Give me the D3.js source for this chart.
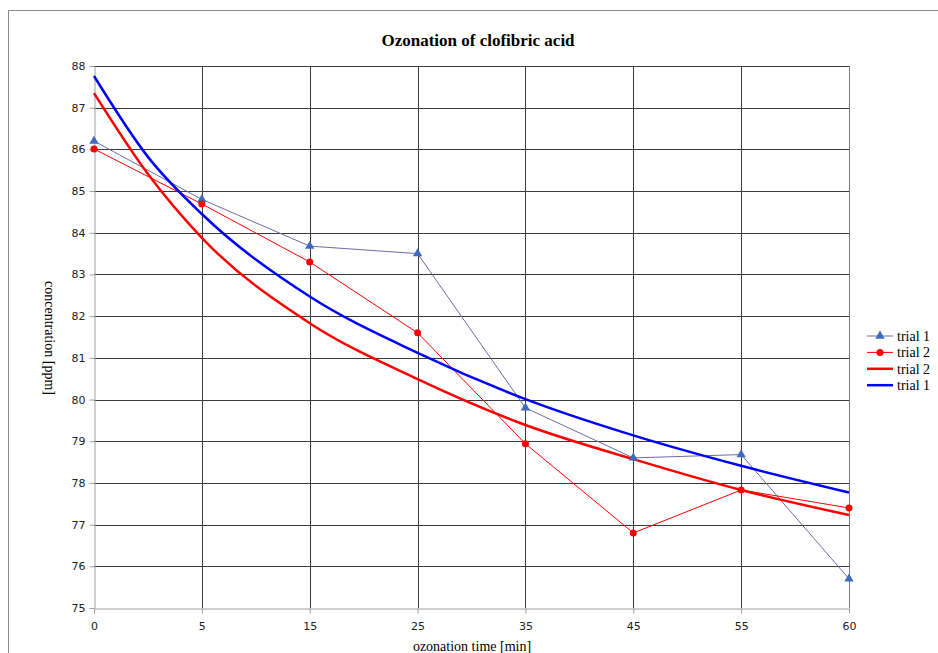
<!DOCTYPE html>
<html>
<head>
<meta charset="utf-8">
<script src="https://cdn.jsdelivr.net/npm/d3@7"></script>
<style>
  body { margin: 0; background: #fff; }
  svg { display: block; }
</style>
</head>
<body>
<svg id="drawing_region"></svg>
<script>
// ozonation time categories (equally spaced on the axis)
const times = ['0', '5', '15', '25', '35', '45', '55', '60'];

// measured concentrations [ppm]
const trial1 = [86.2, 84.8, 83.68, 83.5, 79.8, 78.6, 78.68, 75.7];
const trial2 = [86.01, 84.69, 83.3, 81.6, 78.94, 76.8, 77.83, 77.4];

// fitted curves at category positions (index)
const fitIndex = [0, 0.5, 1, 2, 3, 4, 5, 6, 7];
const fit1 = [87.76, 85.82, 84.45, 82.47, 81.12, 80.01, 79.14, 78.41, 77.77];
const fit2 = [87.35, 85.41, 83.88, 81.83, 80.49, 79.39, 78.57, 77.83, 77.23];

const yTicks = d3.range(75, 89);

class ConcChart {
    constructor( config ) {
        this.config = config;
        this.init();
    }
    init() {
        let self = this;
        self.svg = d3.select( self.config.parent )
            .attr('width', self.config.width)
            .attr('height', self.config.height);

        // outer frame
        self.svg.append('rect')
            .attr('x', 8.5).attr('y', 10.5)
            .attr('width', 960).attr('height', 700)
            .attr('fill', 'none')
            .attr('stroke', '#8c8c8c');

        self.chart = self.svg.append('g')
            .attr('transform', `translate(${self.config.margin.left}, ${self.config.margin.top})`);
        self.inner_width = self.config.width - self.config.margin.left - self.config.margin.right;
        self.inner_height = self.config.height - self.config.margin.top - self.config.margin.bottom;

        self.xscale = d3.scaleLinear()
            .domain([0, times.length - 1])
            .range([0, self.inner_width]);
        self.yscale = d3.scaleLinear()
            .domain([75, 88])
            .range([self.inner_height, 0]);
    }
    render() {
        let self = this;
        const W = self.inner_width, H = self.inner_height;

        // grid
        self.chart.append('g')
            .selectAll('line').data(yTicks.filter(d => d > 75))
            .join('line')
            .attr('x1', 0).attr('x2', W)
            .attr('y1', d => Math.round(self.yscale(d)) + 0.5)
            .attr('y2', d => Math.round(self.yscale(d)) + 0.5)
            .attr('stroke', '#3a3a3a');
        self.chart.append('g')
            .selectAll('line').data(d3.range(1, times.length - 1))
            .join('line')
            .attr('x1', d => Math.round(self.xscale(d)) + 0.5)
            .attr('x2', d => Math.round(self.xscale(d)) + 0.5)
            .attr('y1', 0).attr('y2', H)
            .attr('stroke', '#3a3a3a');
        self.chart.append('line')
            .attr('x1', Math.round(W) + 0.5).attr('x2', Math.round(W) + 0.5)
            .attr('y1', 0).attr('y2', H)
            .attr('stroke', '#7a7a7a');

        // axes
        const yaxis = d3.axisLeft( self.yscale )
            .tickValues(yTicks)
            .tickSize(5)
            .tickSizeOuter(0)
            .tickPadding(4);
        const ya = self.chart.append('g').attr('transform', 'translate(0.5,0)').call(yaxis);
        const xaxis = d3.axisBottom( self.xscale )
            .tickValues(d3.range(times.length))
            .tickFormat(i => times[i])
            .tickSize(5)
            .tickSizeOuter(0)
            .tickPadding(9);
        const xa = self.chart.append('g').attr('transform', `translate(0, ${H + 0.5})`).call(xaxis);
        [ya, xa].forEach(a => {
            a.select('.domain').attr('stroke', '#a0a0a0');
            a.selectAll('.tick line').attr('stroke', '#a0a0a0');
            a.selectAll('text')
                .attr('font-family', 'DejaVu Sans, sans-serif')
                .attr('font-size', 11)
                .attr('fill', '#222');
        });

        // series lines
        const line = d3.line()
            .x( (d, i) => self.xscale(i) )
            .y( d => self.yscale(d) );
        const fitLine = d3.line()
            .x( (d, i) => self.xscale(fitIndex[i]) )
            .y( d => self.yscale(d) )
            .curve(d3.curveMonotoneX);

        self.chart.append('path')
            .attr('d', line(trial1))
            .attr('fill', 'none').attr('stroke', '#6b6ea6').attr('stroke-width', 1);
        self.chart.append('path')
            .attr('d', line(trial2))
            .attr('fill', 'none').attr('stroke', '#ff0000').attr('stroke-width', 1);
        self.chart.append('path')
            .attr('d', fitLine(fit2))
            .attr('fill', 'none').attr('stroke', '#ff0000').attr('stroke-width', 2.5);
        self.chart.append('path')
            .attr('d', fitLine(fit1))
            .attr('fill', 'none').attr('stroke', '#0000ff').attr('stroke-width', 2.5);

        const tri = d3.symbol().type(d3.symbolTriangle).size(38);
        self.chart.append('g')
            .selectAll('path').data(trial1).join('path')
            .attr('d', tri)
            .attr('transform', (d, i) => `translate(${self.xscale(i)}, ${self.yscale(d)})`)
            .attr('fill', '#3f6bbf');
        self.chart.append('g')
            .selectAll('circle').data(trial2).join('circle')
            .attr('cx', (d, i) => self.xscale(i))
            .attr('cy', d => self.yscale(d))
            .attr('r', 3.5)
            .attr('fill', '#ff0000');

        // texts
        self.svg.append('text')
            .attr('x', 478).attr('y', 46)
            .attr('text-anchor', 'middle')
            .attr('font-family', 'Liberation Serif, serif')
            .attr('font-weight', 'bold')
            .attr('font-size', 17)
            .text('Ozonation of clofibric acid');
        self.svg.append('text')
            .attr('x', 472).attr('y', 651)
            .attr('text-anchor', 'middle')
            .attr('font-family', 'Liberation Serif, serif')
            .attr('font-size', 14)
            .text('ozonation time [min]');
        self.svg.append('text')
            .attr('transform', 'translate(45, 338) rotate(90)')
            .attr('text-anchor', 'middle')
            .attr('font-family', 'Liberation Serif, serif')
            .attr('font-size', 14)
            .text('concentration [ppm]');

        // legend
        const legendItems = [
            { label: 'trial 1', color: '#6b6ea6', width: 1, marker: 'tri' },
            { label: 'trial 2', color: '#ff0000', width: 1, marker: 'circle' },
            { label: 'trial 2', color: '#ff0000', width: 2.5, marker: null },
            { label: 'trial 1', color: '#0000ff', width: 2.5, marker: null }
        ];
        const lg = self.svg.append('g').attr('transform', 'translate(867, 336)');
        const rows = lg.selectAll('g').data(legendItems).join('g')
            .attr('transform', (d, i) => `translate(0, ${i * 16.4})`);
        rows.append('line')
            .attr('x1', 0).attr('x2', 26)
            .attr('stroke', d => d.color)
            .attr('stroke-width', d => d.width);
        rows.filter(d => d.marker === 'tri').append('path')
            .attr('d', tri).attr('transform', 'translate(13,0)').attr('fill', '#3f6bbf');
        rows.filter(d => d.marker === 'circle').append('circle')
            .attr('cx', 13).attr('r', 3.5).attr('fill', '#ff0000');
        rows.append('text')
            .attr('x', 30).attr('dy', '0.35em')
            .attr('font-family', 'Liberation Serif, serif')
            .attr('font-size', 14)
            .text(d => d.label);
    }
}

const chart = new ConcChart({
    parent: '#drawing_region',
    width: 938,
    height: 653,
    margin: { top: 66, right: 89, bottom: 45, left: 94 }
});
chart.render();
</script>
</body>
</html>
